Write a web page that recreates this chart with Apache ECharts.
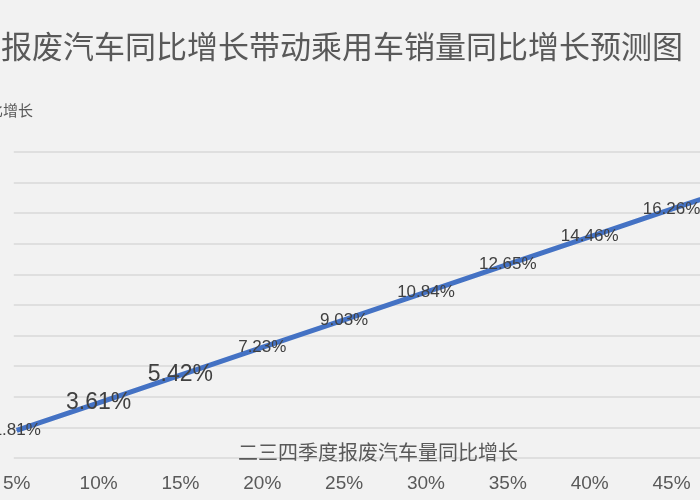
<!DOCTYPE html>
<html><head><meta charset="utf-8">
<script src="https://cdn.jsdelivr.net/npm/echarts@6/dist/echarts.min.js"></script>
<style>html,body{margin:0;padding:0;background:#f2f2f2}#c{width:700px;height:500px}</style>
</head><body><div id="c"></div>
<script>
const xValues = [5, 10, 15, 20, 25, 30, 35, 40, 45, 50];
const growth = [1.81, 3.61, 5.42, 7.23, 9.03, 10.84, 12.65, 14.46, 16.26, 18.07];
const xTickValues = [5, 10, 15, 20, 25, 30, 35, 40, 45];
const bigLabelIdx = [1, 2];
const font = '"Liberation Sans Narrow","Liberation Sans","Noto Sans CJK SC",sans-serif';
const data = xValues.map((x, i) => {
  const d = { value: [x, growth[i]] };
  if (bigLabelIdx.includes(i)) d.label = { fontSize: 23 };
  return d;
});
const chart = echarts.init(document.getElementById('c'));
chart.setOption({
  backgroundColor: '#f2f2f2',
  title: [
    { text: '乘用车报废汽车同比增长带动乘用车销量同比增长预测图', left: -97, top: 26,
      textStyle: { fontSize: 31, fontWeight: 'normal', color: '#595959', fontFamily: '"Noto Sans CJK SC",sans-serif' } },
    { text: '乘用车销量同比增长', right: 662, top: 98,
      textStyle: { fontSize: 15, fontWeight: 'normal', color: '#595959', fontFamily: '"Noto Sans CJK SC",sans-serif' } },
    { text: '二三四季度报废汽车量同比增长', left: 233, top: 437,
      textStyle: { fontSize: 20, fontWeight: 'normal', color: '#595959', fontFamily: '"Noto Sans CJK SC",sans-serif' } }
  ],
  grid: { left: 0, right: 0, top: 152, bottom: 42, containLabel: false },
  xAxis: {
    type: 'value', min: 4.82, max: 46.74,
    axisLine: { show: false }, axisTick: { show: false }, splitLine: { show: false },
    axisLabel: { customValues: xTickValues, formatter: v => Math.round(v) + '%', color: '#595959', fontSize: 19, margin: 16, fontFamily: font }
  },
  yAxis: {
    type: 'value', min: 0, max: 20, interval: 2,
    axisLine: { show: false }, axisTick: { show: false },
    axisLabel: { show: false },
    splitLine: { lineStyle: { color: '#d9d9d9', width: 1.5 } }
  },
  series: [{
    type: 'line', data: data, symbol: 'circle', symbolSize: 1, showSymbol: true,
    itemStyle: { color: '#4472c4' },
    lineStyle: { color: '#4472c4', width: 5 },
    labelLayout: { hideOverlap: false },
    label: { show: true, position: 'inside', formatter: p => p.value[1].toFixed(2) + '%',
      color: '#404040', fontSize: 17, fontFamily: font }
  }]
});
</script></body></html>
